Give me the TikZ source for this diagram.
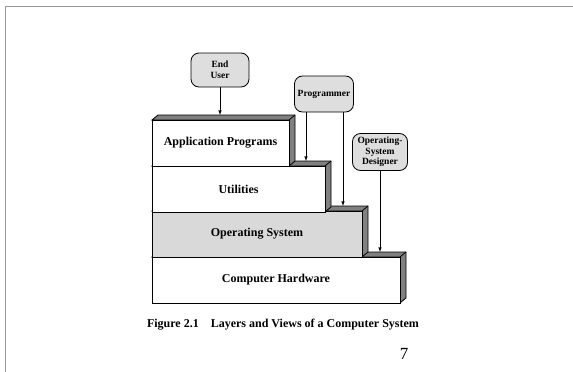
\documentclass[tikz,border=0pt]{standalone}
\usepackage{fontspec}
\setmainfont{Liberation Serif}
\usepackage{tikz}
\usetikzlibrary{arrows, positioning, backgrounds, calc}
\tikzset{%
	viewer/.style={draw, thick, rectangle, rounded corners=8pt, fill=black!13,%
		align=center, inner sep=1pt, font=\fontsize{9.5}{10.5}\selectfont\bfseries},
	layer/.style={draw, thick, rectangle, fill=white, outer sep=0pt, anchor=north west,%
		minimum height=46pt, font=\fontsize{12}{14}\selectfont\bfseries},
	face/.style={draw, thick, fill=black!50},
	sel/.style={-latex, semithick}
}

\begin{document}
\begin{tikzpicture}[x=1pt, y=1pt]
	\useasboundingbox (0,0) rectangle (573,-372);
	\draw[black!40, thick] (5,-372) -- (5,-6) -- (573,-6);

	\node[layer, minimum width=248pt] (hw) at (152,-257) {Computer Hardware};
	\node[layer, minimum width=210pt, fill=black!15] (os) at (152,-211) {Operating System};
	\node[layer, minimum width=173pt] (util) at (152,-166) {Utilities};
	\node[layer, minimum width=137pt] (apps) at (152,-120) {Application Programs};

	\begin{scope}[on background layer]
		\foreach \l in {hw, os, util, apps} {
			\draw[face] (\l.north west) -- ++(6,5) -- ([shift={(6,5)}]\l.north east)
				-- ([shift={(6,5)}]\l.south east) -- (\l.south east) -- (\l.north east) -- cycle;
			\draw[thick] (\l.north east) -- ++(6,5);
			\coordinate (\l-top) at ([yshift=5pt]\l.north);
		}
	\end{scope}

	\node[viewer, minimum width=58pt, minimum height=34pt] (user) at (220,-70) {End\\User};
	\node[viewer, minimum width=59pt, minimum height=36pt] (prog) at (324,-94) {Programmer};
	\node[viewer, minimum width=55pt, minimum height=37pt] (osd) at (380,-152) {Operating-\\System\\Designer};

	\coordinate (prog-l) at ([xshift=-18pt]prog.south);
	\coordinate (prog-r) at ([xshift=19pt]prog.south);

	\draw[sel] (user) -- (user |- apps-top);
	\draw[sel] (prog-l) -- (prog-l |- util-top);
	\draw[sel] (prog-r) -- (prog-r |- os-top);
	\draw[sel] (osd) -- (osd |- hw-top);

	\node[font=\fontsize{12}{14}\selectfont\bfseries] (caption) at (283,-325)
		{Figure 2.1\quad Layers and Views of a Computer System};
	\node[font=\fontsize{17}{19}\selectfont] (page) at (404,-354) {7};
\end{tikzpicture}
\end{document}
